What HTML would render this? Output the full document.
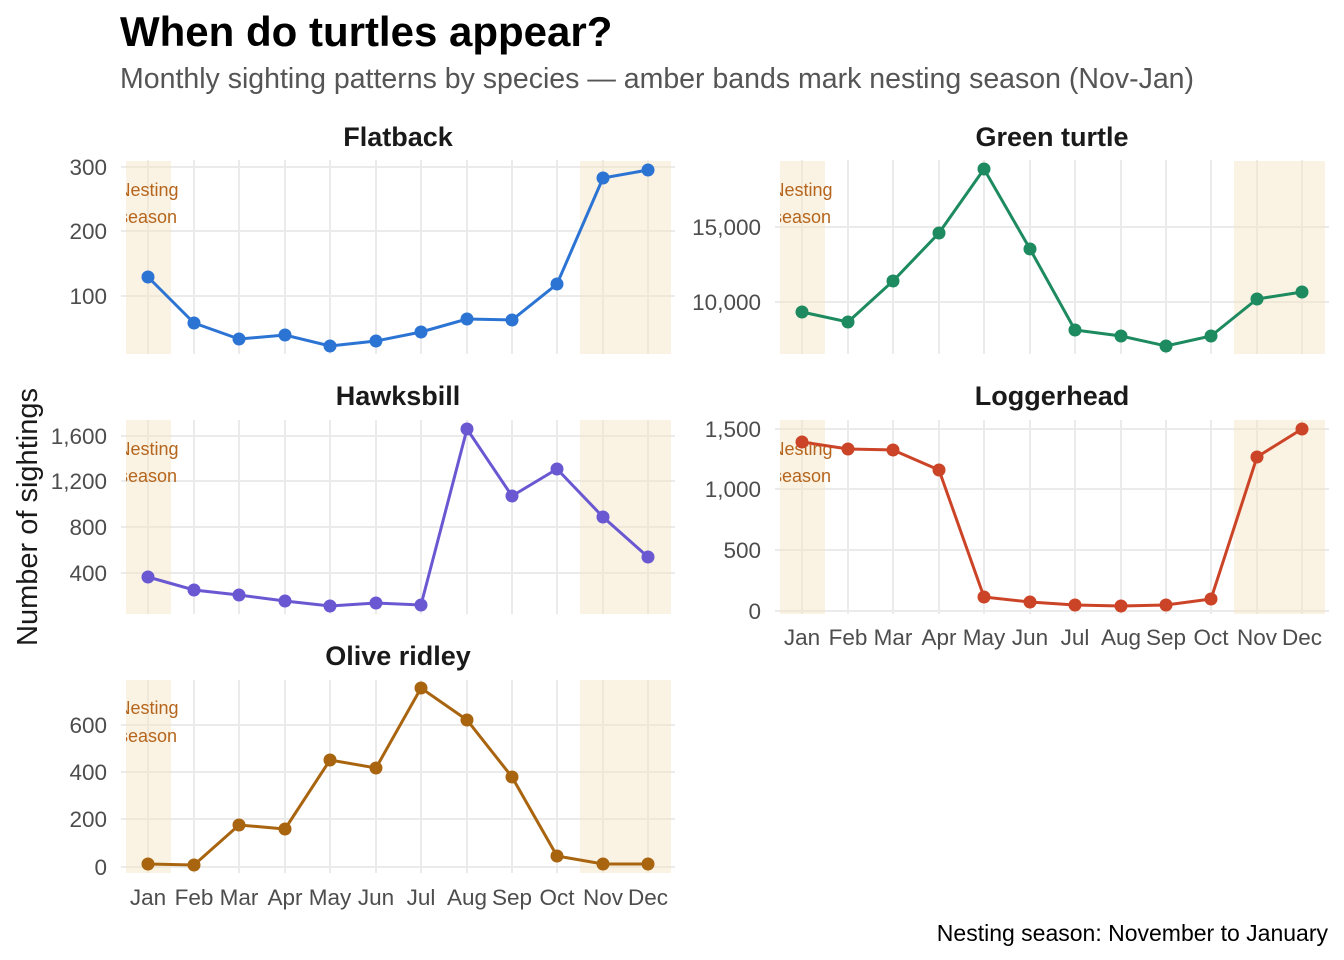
<!DOCTYPE html>
<html><head><meta charset="utf-8"><style>
body{margin:0;background:#fff;}
svg{display:block;font-family:"Liberation Sans",Arial,sans-serif;}
.g{stroke:#ebebeb;stroke-width:2;}
.yt{font-size:22.5px;fill:#4d4d4d;text-anchor:end;}
.xt{font-size:22.5px;fill:#4d4d4d;text-anchor:middle;}
.st{font-size:27px;font-weight:bold;fill:#1a1a1a;text-anchor:middle;}
.ns{font-size:18px;fill:#b5651d;text-anchor:middle;}
.band{fill:#f4e4c1;fill-opacity:0.45;}
</style></head><body>
<svg width="1344" height="960" viewBox="0 0 1344 960">
<defs>
<clipPath id="cL1"><rect x="126" y="155" width="546" height="200"/></clipPath>
<clipPath id="cR1"><rect x="780" y="155" width="546" height="200"/></clipPath>
<clipPath id="cL2"><rect x="126" y="414" width="546" height="200"/></clipPath>
<clipPath id="cR2"><rect x="780" y="414" width="546" height="200"/></clipPath>
<clipPath id="cL3"><rect x="126" y="674" width="546" height="200"/></clipPath>
</defs>
<text x="120" y="46" font-size="42" font-weight="bold" fill="#000">When do turtles appear?</text>
<text x="120" y="88" font-size="28.5" fill="#555">Monthly sighting patterns by species — amber bands mark nesting season (Nov-Jan)</text>
<text transform="translate(37,517) rotate(-90)" font-size="29" fill="#1a1a1a" text-anchor="middle">Number of sightings</text>
<text x="1328" y="941" font-size="23" fill="#000" text-anchor="end">Nesting season: November to January</text>

<!-- Panel L1 Flatback -->
<g>
<g class="g">
<line x1="121" x2="675" y1="167" y2="167"/><line x1="121" x2="675" y1="231" y2="231"/><line x1="121" x2="675" y1="296" y2="296"/>
<line x1="148" x2="148" y1="160" y2="354"/><line x1="194" x2="194" y1="160" y2="354"/><line x1="239" x2="239" y1="160" y2="354"/><line x1="285" x2="285" y1="160" y2="354"/><line x1="330" x2="330" y1="160" y2="354"/><line x1="376" x2="376" y1="160" y2="354"/><line x1="421" x2="421" y1="160" y2="354"/><line x1="467" x2="467" y1="160" y2="354"/><line x1="512" x2="512" y1="160" y2="354"/><line x1="557" x2="557" y1="160" y2="354"/><line x1="603" x2="603" y1="160" y2="354"/><line x1="648" x2="648" y1="160" y2="354"/>
</g>
<rect class="band" x="126" y="161" width="45" height="193"/><rect class="band" x="580" y="161" width="91" height="193"/>
<g clip-path="url(#cL1)"><text class="ns" x="148" y="196">Nesting</text><text class="ns" x="148" y="223">season</text></g>
<text class="yt" x="107" y="175">300</text><text class="yt" x="107" y="239">200</text><text class="yt" x="107" y="304">100</text>
<text class="st" x="398" y="146">Flatback</text>
<g stroke="#2c74d4" fill="#2c74d4"><polyline fill="none" stroke-width="3" points="148,277 194,323 239,339 285,335 330,346 376,341 421,332 467,319 512,320 557,284 603,178 648,170"/>
<g stroke="none"><circle cx="148" cy="277" r="6.5"/><circle cx="194" cy="323" r="6.5"/><circle cx="239" cy="339" r="6.5"/><circle cx="285" cy="335" r="6.5"/><circle cx="330" cy="346" r="6.5"/><circle cx="376" cy="341" r="6.5"/><circle cx="421" cy="332" r="6.5"/><circle cx="467" cy="319" r="6.5"/><circle cx="512" cy="320" r="6.5"/><circle cx="557" cy="284" r="6.5"/><circle cx="603" cy="178" r="6.5"/><circle cx="648" cy="170" r="6.5"/></g></g>
</g>

<!-- Panel R1 Green -->
<g>
<g class="g">
<line x1="775" x2="1329" y1="227" y2="227"/><line x1="775" x2="1329" y1="302" y2="302"/>
<line x1="802" x2="802" y1="160" y2="354"/><line x1="848" x2="848" y1="160" y2="354"/><line x1="893" x2="893" y1="160" y2="354"/><line x1="939" x2="939" y1="160" y2="354"/><line x1="984" x2="984" y1="160" y2="354"/><line x1="1030" x2="1030" y1="160" y2="354"/><line x1="1075" x2="1075" y1="160" y2="354"/><line x1="1121" x2="1121" y1="160" y2="354"/><line x1="1166" x2="1166" y1="160" y2="354"/><line x1="1211" x2="1211" y1="160" y2="354"/><line x1="1257" x2="1257" y1="160" y2="354"/><line x1="1302" x2="1302" y1="160" y2="354"/>
</g>
<rect class="band" x="780" y="161" width="45" height="193"/><rect class="band" x="1234" y="161" width="91" height="193"/>
<g clip-path="url(#cR1)"><text class="ns" x="802" y="196">Nesting</text><text class="ns" x="802" y="223">season</text></g>
<text class="yt" x="761" y="235">15,000</text><text class="yt" x="761" y="310">10,000</text>
<text class="st" x="1052" y="146">Green turtle</text>
<g stroke="#1d8a5f" fill="#1d8a5f"><polyline fill="none" stroke-width="3" points="802,312 848,322 893,281 939,233 984,169 1030,249 1075,330 1121,336 1166,346 1211,336 1257,299 1302,292"/>
<g stroke="none"><circle cx="802" cy="312" r="6.5"/><circle cx="848" cy="322" r="6.5"/><circle cx="893" cy="281" r="6.5"/><circle cx="939" cy="233" r="6.5"/><circle cx="984" cy="169" r="6.5"/><circle cx="1030" cy="249" r="6.5"/><circle cx="1075" cy="330" r="6.5"/><circle cx="1121" cy="336" r="6.5"/><circle cx="1166" cy="346" r="6.5"/><circle cx="1211" cy="336" r="6.5"/><circle cx="1257" cy="299" r="6.5"/><circle cx="1302" cy="292" r="6.5"/></g></g>
</g>

<!-- Panel L2 Hawksbill -->
<g>
<g class="g">
<line x1="121" x2="675" y1="436" y2="436"/><line x1="121" x2="675" y1="481" y2="481"/><line x1="121" x2="675" y1="527" y2="527"/><line x1="121" x2="675" y1="573" y2="573"/>
<line x1="148" x2="148" y1="420" y2="614"/><line x1="194" x2="194" y1="420" y2="614"/><line x1="239" x2="239" y1="420" y2="614"/><line x1="285" x2="285" y1="420" y2="614"/><line x1="330" x2="330" y1="420" y2="614"/><line x1="376" x2="376" y1="420" y2="614"/><line x1="421" x2="421" y1="420" y2="614"/><line x1="467" x2="467" y1="420" y2="614"/><line x1="512" x2="512" y1="420" y2="614"/><line x1="557" x2="557" y1="420" y2="614"/><line x1="603" x2="603" y1="420" y2="614"/><line x1="648" x2="648" y1="420" y2="614"/>
</g>
<rect class="band" x="126" y="420" width="45" height="194"/><rect class="band" x="580" y="420" width="91" height="194"/>
<g clip-path="url(#cL2)"><text class="ns" x="148" y="455">Nesting</text><text class="ns" x="148" y="482">season</text></g>
<text class="yt" x="107" y="444">1,600</text><text class="yt" x="107" y="489">1,200</text><text class="yt" x="107" y="535">800</text><text class="yt" x="107" y="581">400</text>
<text class="st" x="398" y="405">Hawksbill</text>
<g stroke="#6a58d2" fill="#6a58d2"><polyline fill="none" stroke-width="3" points="148,577 194,590 239,595 285,601 330,606 376,603 421,605 467,429 512,496 557,469 603,517 648,557"/>
<g stroke="none"><circle cx="148" cy="577" r="6.5"/><circle cx="194" cy="590" r="6.5"/><circle cx="239" cy="595" r="6.5"/><circle cx="285" cy="601" r="6.5"/><circle cx="330" cy="606" r="6.5"/><circle cx="376" cy="603" r="6.5"/><circle cx="421" cy="605" r="6.5"/><circle cx="467" cy="429" r="6.5"/><circle cx="512" cy="496" r="6.5"/><circle cx="557" cy="469" r="6.5"/><circle cx="603" cy="517" r="6.5"/><circle cx="648" cy="557" r="6.5"/></g></g>
</g>

<!-- Panel R2 Loggerhead -->
<g>
<g class="g">
<line x1="775" x2="1329" y1="429" y2="429"/><line x1="775" x2="1329" y1="489" y2="489"/><line x1="775" x2="1329" y1="550" y2="550"/><line x1="775" x2="1329" y1="611" y2="611"/>
<line x1="802" x2="802" y1="420" y2="614"/><line x1="848" x2="848" y1="420" y2="614"/><line x1="893" x2="893" y1="420" y2="614"/><line x1="939" x2="939" y1="420" y2="614"/><line x1="984" x2="984" y1="420" y2="614"/><line x1="1030" x2="1030" y1="420" y2="614"/><line x1="1075" x2="1075" y1="420" y2="614"/><line x1="1121" x2="1121" y1="420" y2="614"/><line x1="1166" x2="1166" y1="420" y2="614"/><line x1="1211" x2="1211" y1="420" y2="614"/><line x1="1257" x2="1257" y1="420" y2="614"/><line x1="1302" x2="1302" y1="420" y2="614"/>
</g>
<rect class="band" x="780" y="420" width="45" height="194"/><rect class="band" x="1234" y="420" width="91" height="194"/>
<g clip-path="url(#cR2)"><text class="ns" x="802" y="455">Nesting</text><text class="ns" x="802" y="482">season</text></g>
<text class="yt" x="761" y="437">1,500</text><text class="yt" x="761" y="497">1,000</text><text class="yt" x="761" y="558">500</text><text class="yt" x="761" y="619">0</text>
<text class="st" x="1052" y="405">Loggerhead</text>
<g stroke="#cc4428" fill="#cc4428"><polyline fill="none" stroke-width="3" points="802,442 848,449 893,450 939,470 984,597 1030,602 1075,605 1121,606 1166,605 1211,599 1257,457 1302,429"/>
<g stroke="none"><circle cx="802" cy="442" r="6.5"/><circle cx="848" cy="449" r="6.5"/><circle cx="893" cy="450" r="6.5"/><circle cx="939" cy="470" r="6.5"/><circle cx="984" cy="597" r="6.5"/><circle cx="1030" cy="602" r="6.5"/><circle cx="1075" cy="605" r="6.5"/><circle cx="1121" cy="606" r="6.5"/><circle cx="1166" cy="605" r="6.5"/><circle cx="1211" cy="599" r="6.5"/><circle cx="1257" cy="457" r="6.5"/><circle cx="1302" cy="429" r="6.5"/></g></g>
<g class="xt"><text x="802" y="645">Jan</text><text x="848" y="645">Feb</text><text x="893" y="645">Mar</text><text x="939" y="645">Apr</text><text x="984" y="645">May</text><text x="1030" y="645">Jun</text><text x="1075" y="645">Jul</text><text x="1121" y="645">Aug</text><text x="1166" y="645">Sep</text><text x="1211" y="645">Oct</text><text x="1257" y="645">Nov</text><text x="1302" y="645">Dec</text></g>
</g>

<!-- Panel L3 Olive ridley -->
<g>
<g class="g">
<line x1="121" x2="675" y1="725" y2="725"/><line x1="121" x2="675" y1="772" y2="772"/><line x1="121" x2="675" y1="819" y2="819"/><line x1="121" x2="675" y1="867" y2="867"/>
<line x1="148" x2="148" y1="680" y2="873"/><line x1="194" x2="194" y1="680" y2="873"/><line x1="239" x2="239" y1="680" y2="873"/><line x1="285" x2="285" y1="680" y2="873"/><line x1="330" x2="330" y1="680" y2="873"/><line x1="376" x2="376" y1="680" y2="873"/><line x1="421" x2="421" y1="680" y2="873"/><line x1="467" x2="467" y1="680" y2="873"/><line x1="512" x2="512" y1="680" y2="873"/><line x1="557" x2="557" y1="680" y2="873"/><line x1="603" x2="603" y1="680" y2="873"/><line x1="648" x2="648" y1="680" y2="873"/>
</g>
<rect class="band" x="126" y="680" width="45" height="193"/><rect class="band" x="580" y="680" width="91" height="193"/>
<g clip-path="url(#cL3)"><text class="ns" x="148" y="714">Nesting</text><text class="ns" x="148" y="742">season</text></g>
<text class="yt" x="107" y="733">600</text><text class="yt" x="107" y="780">400</text><text class="yt" x="107" y="827">200</text><text class="yt" x="107" y="875">0</text>
<text class="st" x="398" y="665">Olive ridley</text>
<g stroke="#a9640f" fill="#a9640f"><polyline fill="none" stroke-width="3" points="148,864 194,865 239,825 285,829 330,760 376,768 421,688 467,720 512,777 557,856 603,864 648,864"/>
<g stroke="none"><circle cx="148" cy="864" r="6.5"/><circle cx="194" cy="865" r="6.5"/><circle cx="239" cy="825" r="6.5"/><circle cx="285" cy="829" r="6.5"/><circle cx="330" cy="760" r="6.5"/><circle cx="376" cy="768" r="6.5"/><circle cx="421" cy="688" r="6.5"/><circle cx="467" cy="720" r="6.5"/><circle cx="512" cy="777" r="6.5"/><circle cx="557" cy="856" r="6.5"/><circle cx="603" cy="864" r="6.5"/><circle cx="648" cy="864" r="6.5"/></g></g>
<g class="xt"><text x="148" y="905">Jan</text><text x="194" y="905">Feb</text><text x="239" y="905">Mar</text><text x="285" y="905">Apr</text><text x="330" y="905">May</text><text x="376" y="905">Jun</text><text x="421" y="905">Jul</text><text x="467" y="905">Aug</text><text x="512" y="905">Sep</text><text x="557" y="905">Oct</text><text x="603" y="905">Nov</text><text x="648" y="905">Dec</text></g>
</g>
</svg>
</body></html>
